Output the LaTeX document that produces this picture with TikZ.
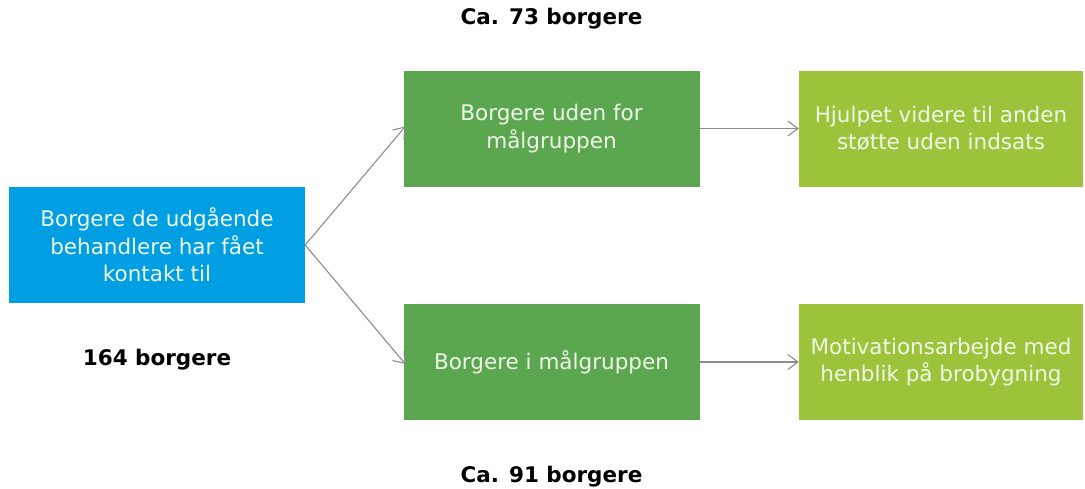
\documentclass[tikz,border=0pt]{standalone}
\usepackage{fontspec}
\setmainfont{DejaVu Sans}
\usetikzlibrary{arrows.meta}
\definecolor{cblue}{RGB}{0,159,227}
\definecolor{cgreen}{RGB}{91,167,80}
\definecolor{clime}{RGB}{157,195,59}
\definecolor{cline}{RGB}{140,140,140}
\definecolor{ctxt}{RGB}{240,246,232}
\begin{document}
\begin{tikzpicture}[x=1pt,y=-1pt,
  box/.style={draw=none,minimum width=296pt,minimum height=116pt,inner sep=0pt,
    text=ctxt,align=center,font=\fontsize{21.5}{27.5}\selectfont},
  lbl/.style={font=\bfseries\fontsize{21.5}{25}\selectfont,text=black},
  conn/.style={draw=cline,line width=1.1pt,-{Straight Barb[length=10pt,width=15pt,line width=1.1pt]}}]
\useasboundingbox (0,0) rectangle (1085,488);
\node[box,fill=cblue] (src) at (157,245) {Borgere de udgående\\behandlere har fået\\kontakt til};
\node[box,fill=cgreen] (out) at (551.5,128.5) {Borgere uden for\\målgruppen};
\node[box,fill=cgreen] (in) at (551.5,362) {Borgere i målgruppen};
\node[box,fill=clime,minimum width=284pt] (help) at (941,128.5) {Hjulpet videre til anden\\støtte uden indsats};
\node[box,fill=clime,minimum width=284pt] (mot) at (941,362) {Motivationsarbejde med\\henblik på brobygning};
\node[lbl] (l73) at (551.5,19) {Ca. 73 borgere};
\node[lbl] (l164) at (157,360) {164 borgere};
\node[lbl] (l91) at (551.5,477) {Ca. 91 borgere};
\coordinate (fork) at (src.east);
\draw[conn] (fork) -- ([xshift=2pt,yshift=2pt]out.west);
\draw[conn] (fork) -- ([xshift=2pt,yshift=-2pt]in.west);
\draw[conn] (out.east) -- (help.west);
\draw[conn] (in.east) -- (mot.west);
\end{tikzpicture}
\end{document}
